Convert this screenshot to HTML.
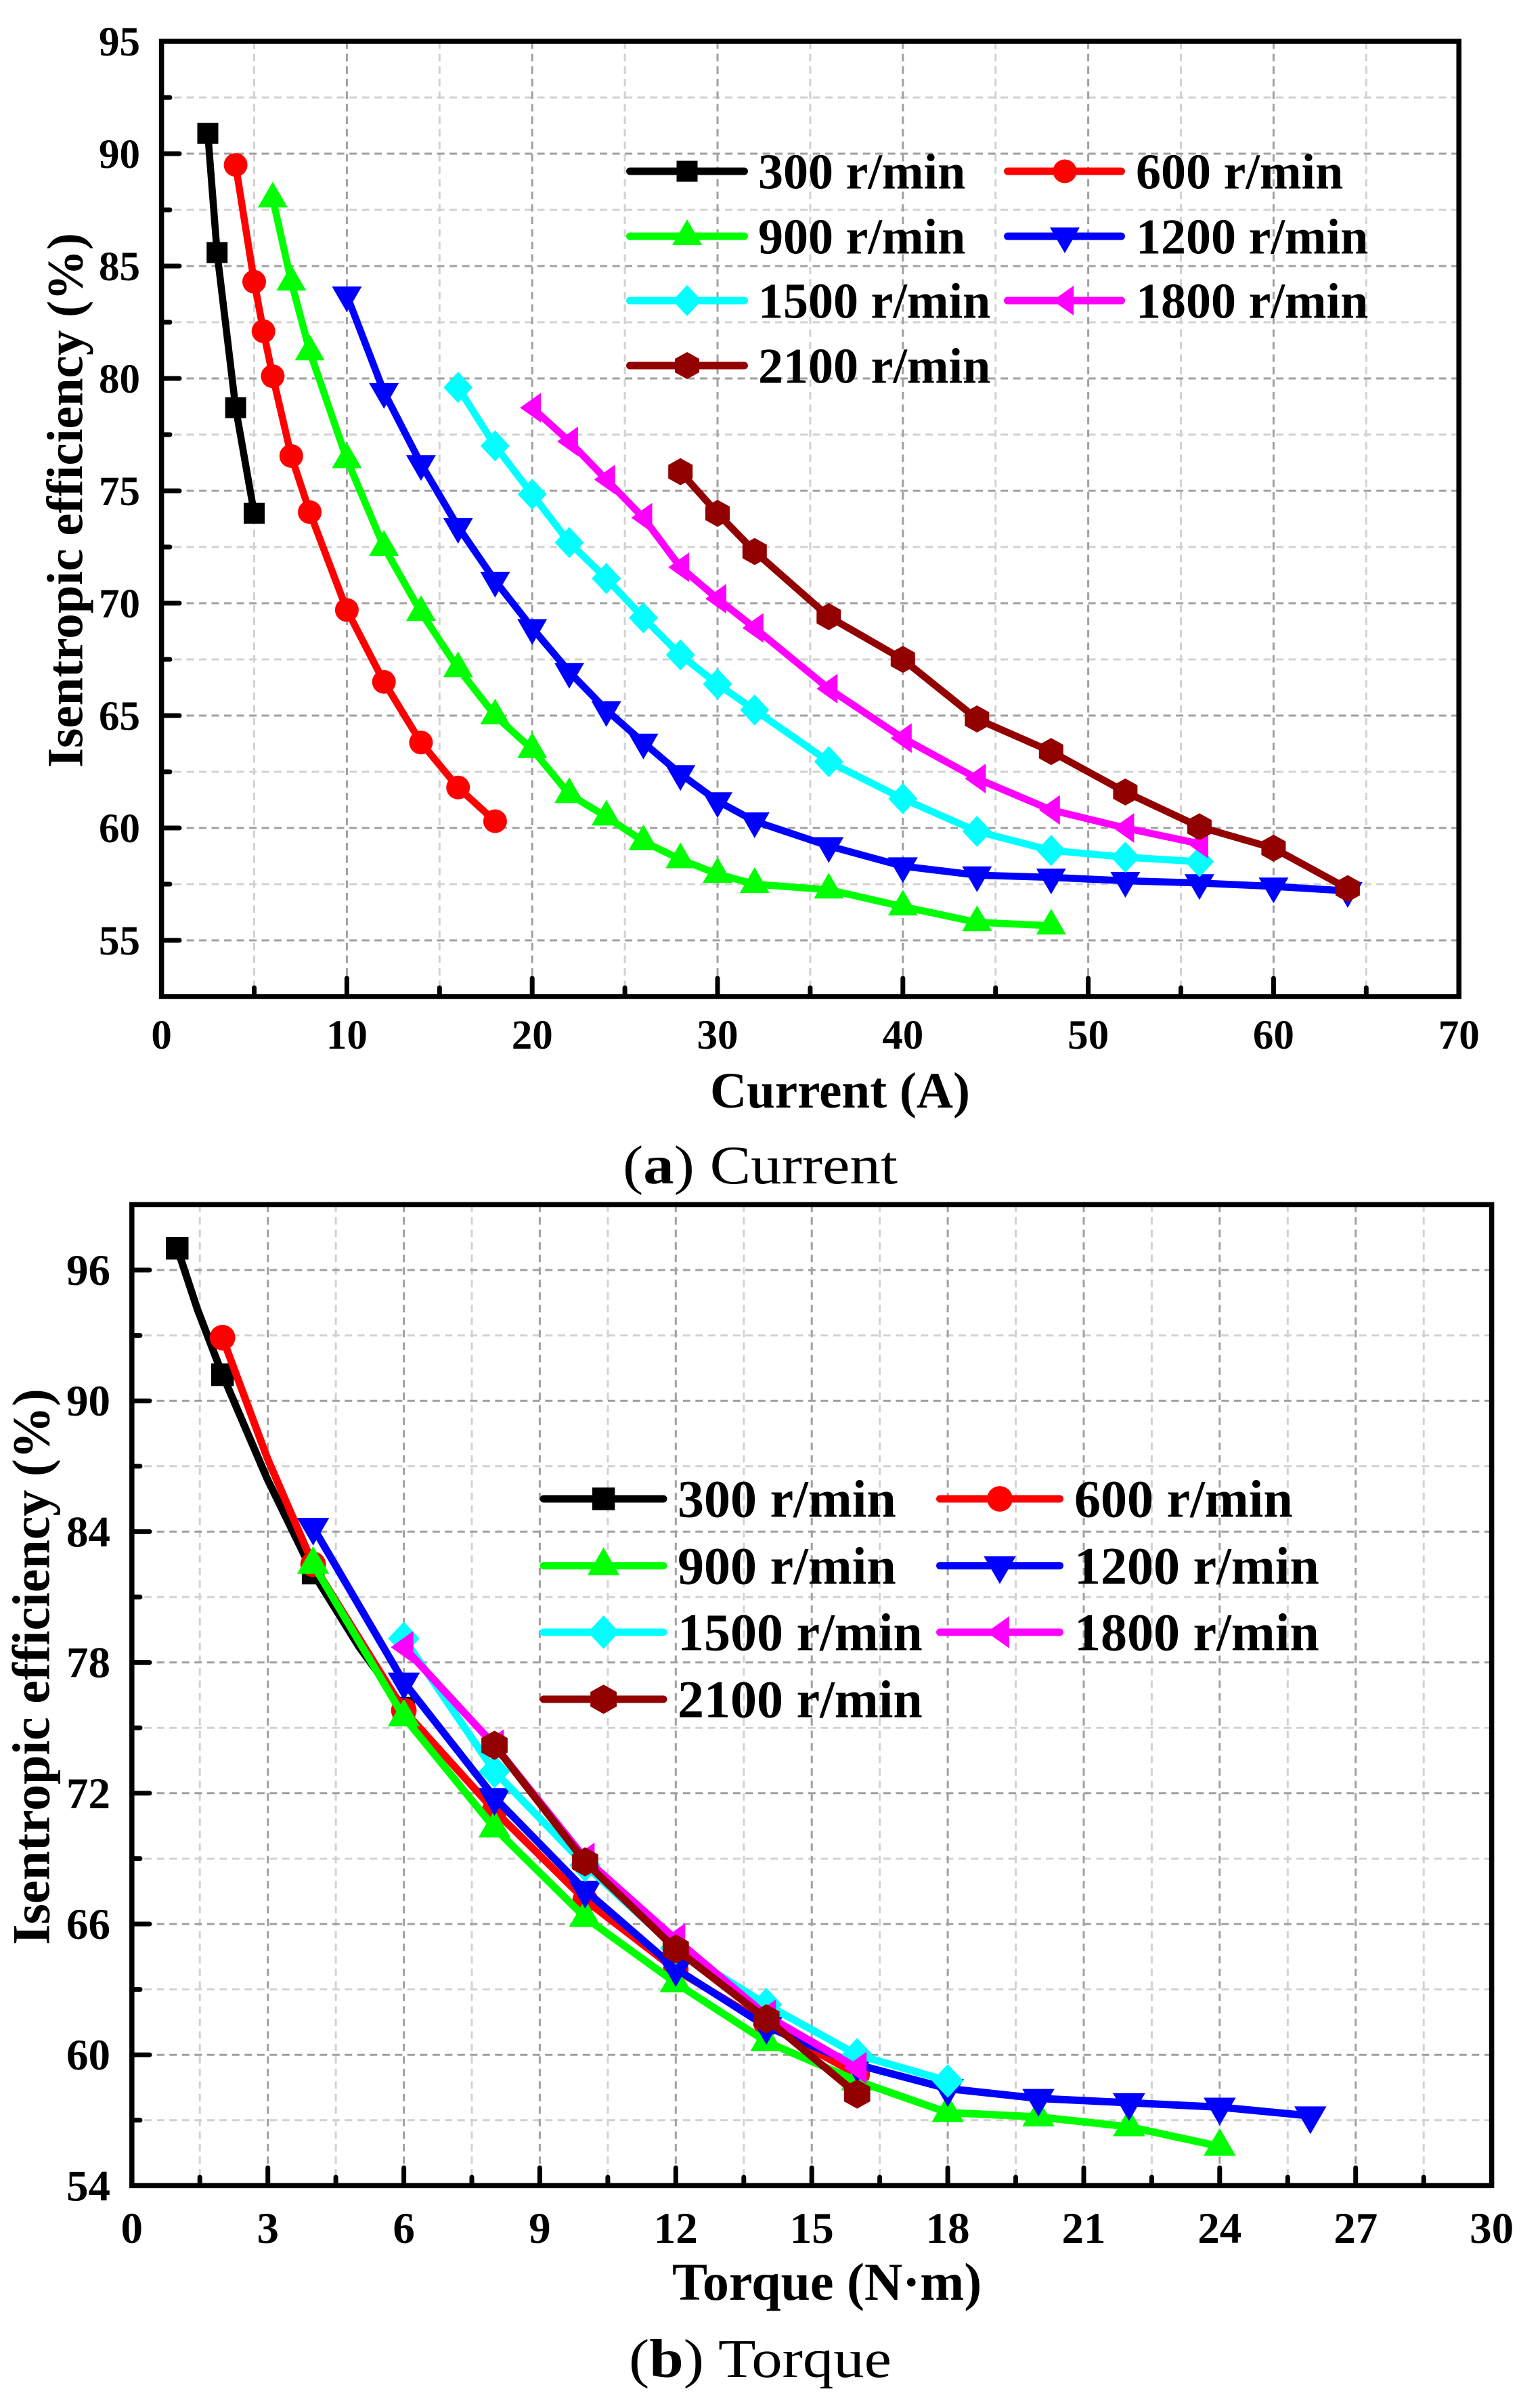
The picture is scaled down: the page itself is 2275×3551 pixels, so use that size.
<!DOCTYPE html>
<html>
<head>
<meta charset="utf-8">
<style>
  html,body{margin:0;padding:0;background:#fff;}
  svg{display:block;}
  text{font-family:"Liberation Serif","Times New Roman",serif;fill:#000;}
</style>
</head>
<body>
<svg xmlns="http://www.w3.org/2000/svg" xmlns:xlink="http://www.w3.org/1999/xlink" width="2275" height="3551" viewBox="0 0 2275 3551">
<rect x="0" y="0" width="2275" height="3551" fill="#fff"/>
<defs>
  <rect id="sq" x="-15.5" y="-15.5" width="31" height="31"/>
  <circle id="ci" cx="0" cy="0" r="17.5"/>
  <polygon id="tu" points="0,-25 22,13 -22,13"/>
  <polygon id="td" points="0,25 22,-13 -22,-13"/>
  <polygon id="di" points="0,-23 21.5,0 0,23 -21.5,0"/>
  <polygon id="tl" points="-18,0 13,-22 13,22"/>
  <polygon id="hx" points="0,-20 18,-10 18,10 0,20 -18,10 -18,-10"/>
  <rect id="bsq" x="-16.7" y="-16.7" width="33.4" height="33.4"/>
  <circle id="bci" cx="0" cy="0" r="18.9"/>
  <polygon id="btu" points="0,-27 23.8,14 -23.8,14"/>
  <polygon id="btd" points="0,27 23.8,-14 -23.8,-14"/>
  <polygon id="bdi" points="0,-24.8 23.2,0 0,24.8 -23.2,0"/>
  <polygon id="btl" points="-19.4,0 14,-23.8 14,23.8"/>
  <polygon id="bhx" points="0,-21.6 19.4,-10.8 19.4,10.8 0,21.6 -19.4,10.8 -19.4,-10.8"/>
</defs>

<!-- ===================== CHART (a) ===================== -->
<g stroke="#d2d2d2" stroke-width="3" stroke-dasharray="11 7.5" fill="none">
  <line x1="375.5" y1="61" x2="375.5" y2="1472"/>
  <line x1="649.3" y1="61" x2="649.3" y2="1472"/>
  <line x1="923.1" y1="61" x2="923.1" y2="1472"/>
  <line x1="1196.9" y1="61" x2="1196.9" y2="1472"/>
  <line x1="1470.7" y1="61" x2="1470.7" y2="1472"/>
  <line x1="1744.5" y1="61" x2="1744.5" y2="1472"/>
  <line x1="2018.3" y1="61" x2="2018.3" y2="1472"/>
  <line x1="238.6" y1="144" x2="2155.2" y2="144"/>
  <line x1="238.6" y1="310" x2="2155.2" y2="310"/>
  <line x1="238.6" y1="476" x2="2155.2" y2="476"/>
  <line x1="238.6" y1="642" x2="2155.2" y2="642"/>
  <line x1="238.6" y1="808" x2="2155.2" y2="808"/>
  <line x1="238.6" y1="974" x2="2155.2" y2="974"/>
  <line x1="238.6" y1="1140" x2="2155.2" y2="1140"/>
  <line x1="238.6" y1="1306" x2="2155.2" y2="1306"/>
</g>
<g stroke="#a0a0a0" stroke-width="3" stroke-dasharray="11 7.5" fill="none">
  <line x1="512.4" y1="61" x2="512.4" y2="1472"/>
  <line x1="786.2" y1="61" x2="786.2" y2="1472"/>
  <line x1="1060" y1="61" x2="1060" y2="1472"/>
  <line x1="1333.8" y1="61" x2="1333.8" y2="1472"/>
  <line x1="1607.6" y1="61" x2="1607.6" y2="1472"/>
  <line x1="1881.4" y1="61" x2="1881.4" y2="1472"/>
  <line x1="238.6" y1="227" x2="2155.2" y2="227"/>
  <line x1="238.6" y1="393" x2="2155.2" y2="393"/>
  <line x1="238.6" y1="559" x2="2155.2" y2="559"/>
  <line x1="238.6" y1="725" x2="2155.2" y2="725"/>
  <line x1="238.6" y1="891" x2="2155.2" y2="891"/>
  <line x1="238.6" y1="1057" x2="2155.2" y2="1057"/>
  <line x1="238.6" y1="1223" x2="2155.2" y2="1223"/>
  <line x1="238.6" y1="1389" x2="2155.2" y2="1389"/>
</g>

<!-- series (a) -->
<polyline fill="none" stroke="#000000" stroke-width="10.5" stroke-linejoin="round" points="307.0,197.1 320.7,373.1 348.1,602.2 375.5,758.2"/>
<g fill="#000000">
  <use xlink:href="#sq" x="307.0" y="197.1"/><use xlink:href="#sq" x="320.7" y="373.1"/><use xlink:href="#sq" x="348.1" y="602.2"/><use xlink:href="#sq" x="375.5" y="758.2"/>
</g>

<polyline fill="none" stroke="#ff0000" stroke-width="10.5" stroke-linejoin="round" points="348.1,243.6 375.5,416.2 389.2,489.3 402.9,555.7 430.3,673.5 457.6,756.5 512.4,901.0 567.2,1007.2 621.9,1096.8 676.7,1163.2 731.4,1213.0"/>
<g fill="#ff0000">
  <use xlink:href="#ci" x="348.1" y="243.6"/><use xlink:href="#ci" x="375.5" y="416.2"/><use xlink:href="#ci" x="389.2" y="489.3"/><use xlink:href="#ci" x="402.9" y="555.7"/><use xlink:href="#ci" x="430.3" y="673.5"/><use xlink:href="#ci" x="457.6" y="756.5"/><use xlink:href="#ci" x="512.4" y="901.0"/><use xlink:href="#ci" x="567.2" y="1007.2"/><use xlink:href="#ci" x="621.9" y="1096.8"/><use xlink:href="#ci" x="676.7" y="1163.2"/><use xlink:href="#ci" x="731.4" y="1213.0"/>
</g>

<polyline fill="none" stroke="#00ff00" stroke-width="10.5" stroke-linejoin="round" points="402.9,293.4 430.3,416.2 457.6,519.2 512.4,678.5 567.2,808.0 621.9,904.3 676.7,987.3 731.4,1057.0 786.2,1106.8 841.0,1173.2 895.7,1206.4 950.5,1242.9 1005.2,1269.5 1060.0,1291.1 1114.8,1306.0 1224.3,1314.3 1333.8,1339.2 1443.3,1362.4 1552.8,1367.4"/>
<g fill="#00ff00">
  <use xlink:href="#tu" x="402.9" y="293.4"/><use xlink:href="#tu" x="430.3" y="416.2"/><use xlink:href="#tu" x="457.6" y="519.2"/><use xlink:href="#tu" x="512.4" y="678.5"/><use xlink:href="#tu" x="567.2" y="808.0"/><use xlink:href="#tu" x="621.9" y="904.3"/><use xlink:href="#tu" x="676.7" y="987.3"/><use xlink:href="#tu" x="731.4" y="1057.0"/><use xlink:href="#tu" x="786.2" y="1106.8"/><use xlink:href="#tu" x="841.0" y="1173.2"/><use xlink:href="#tu" x="895.7" y="1206.4"/><use xlink:href="#tu" x="950.5" y="1242.9"/><use xlink:href="#tu" x="1005.2" y="1269.5"/><use xlink:href="#tu" x="1060.0" y="1291.1"/><use xlink:href="#tu" x="1114.8" y="1306.0"/><use xlink:href="#tu" x="1224.3" y="1314.3"/><use xlink:href="#tu" x="1333.8" y="1339.2"/><use xlink:href="#tu" x="1443.3" y="1362.4"/><use xlink:href="#tu" x="1552.8" y="1367.4"/>
</g>

<polyline fill="none" stroke="#0000ff" stroke-width="10.5" stroke-linejoin="round" points="512.4,436.2 567.2,578.9 621.9,685.2 676.7,778.1 731.4,857.8 786.2,927.5 841.0,992.3 895.7,1048.7 950.5,1096.8 1005.2,1143.3 1060.0,1183.2 1114.8,1213.0 1224.3,1249.6 1333.8,1279.4 1443.3,1292.7 1552.8,1296.0 1662.4,1301.0 1771.9,1304.3 1881.4,1309.3 1990.9,1316.0"/>
<g fill="#0000ff">
  <use xlink:href="#td" x="512.4" y="436.2"/><use xlink:href="#td" x="567.2" y="578.9"/><use xlink:href="#td" x="621.9" y="685.2"/><use xlink:href="#td" x="676.7" y="778.1"/><use xlink:href="#td" x="731.4" y="857.8"/><use xlink:href="#td" x="786.2" y="927.5"/><use xlink:href="#td" x="841.0" y="992.3"/><use xlink:href="#td" x="895.7" y="1048.7"/><use xlink:href="#td" x="950.5" y="1096.8"/><use xlink:href="#td" x="1005.2" y="1143.3"/><use xlink:href="#td" x="1060.0" y="1183.2"/><use xlink:href="#td" x="1114.8" y="1213.0"/><use xlink:href="#td" x="1224.3" y="1249.6"/><use xlink:href="#td" x="1333.8" y="1279.4"/><use xlink:href="#td" x="1443.3" y="1292.7"/><use xlink:href="#td" x="1552.8" y="1296.0"/><use xlink:href="#td" x="1662.4" y="1301.0"/><use xlink:href="#td" x="1771.9" y="1304.3"/><use xlink:href="#td" x="1881.4" y="1309.3"/><use xlink:href="#td" x="1990.9" y="1316.0"/>
</g>

<polyline fill="none" stroke="#00ffff" stroke-width="10.5" stroke-linejoin="round" points="676.7,572.3 731.4,658.6 786.2,730.0 841.0,801.4 895.7,854.5 950.5,912.6 1005.2,967.4 1060.0,1010.5 1114.8,1048.7 1224.3,1125.1 1333.8,1179.8 1443.3,1228.0 1552.8,1256.2 1662.4,1266.2 1771.9,1272.8"/>
<g fill="#00ffff">
  <use xlink:href="#di" x="676.7" y="572.3"/><use xlink:href="#di" x="731.4" y="658.6"/><use xlink:href="#di" x="786.2" y="730.0"/><use xlink:href="#di" x="841.0" y="801.4"/><use xlink:href="#di" x="895.7" y="854.5"/><use xlink:href="#di" x="950.5" y="912.6"/><use xlink:href="#di" x="1005.2" y="967.4"/><use xlink:href="#di" x="1060.0" y="1010.5"/><use xlink:href="#di" x="1114.8" y="1048.7"/><use xlink:href="#di" x="1224.3" y="1125.1"/><use xlink:href="#di" x="1333.8" y="1179.8"/><use xlink:href="#di" x="1443.3" y="1228.0"/><use xlink:href="#di" x="1552.8" y="1256.2"/><use xlink:href="#di" x="1662.4" y="1266.2"/><use xlink:href="#di" x="1771.9" y="1272.8"/>
</g>

<polyline fill="none" stroke="#ff00ff" stroke-width="10.5" stroke-linejoin="round" points="786.2,602.2 841.0,652.0 895.7,708.4 950.5,764.8 1005.2,837.9 1060.0,884.4 1114.8,927.5 1224.3,1017.2 1333.8,1090.2 1443.3,1150.0 1552.8,1196.4 1662.4,1223.0 1771.9,1246.2"/>
<g fill="#ff00ff">
  <use xlink:href="#tl" x="786.2" y="602.2"/><use xlink:href="#tl" x="841.0" y="652.0"/><use xlink:href="#tl" x="895.7" y="708.4"/><use xlink:href="#tl" x="950.5" y="764.8"/><use xlink:href="#tl" x="1005.2" y="837.9"/><use xlink:href="#tl" x="1060.0" y="884.4"/><use xlink:href="#tl" x="1114.8" y="927.5"/><use xlink:href="#tl" x="1224.3" y="1017.2"/><use xlink:href="#tl" x="1333.8" y="1090.2"/><use xlink:href="#tl" x="1443.3" y="1150.0"/><use xlink:href="#tl" x="1552.8" y="1196.4"/><use xlink:href="#tl" x="1662.4" y="1223.0"/><use xlink:href="#tl" x="1771.9" y="1246.2"/>
</g>

<polyline fill="none" stroke="#920000" stroke-width="10.5" stroke-linejoin="round" points="1005.2,696.8 1060.0,758.2 1114.8,814.6 1224.3,910.9 1333.8,974.0 1443.3,1062.0 1552.8,1110.1 1662.4,1169.9 1771.9,1221.3 1881.4,1252.9 1990.9,1312.6"/>
<g fill="#920000">
  <use xlink:href="#hx" x="1005.2" y="696.8"/><use xlink:href="#hx" x="1060.0" y="758.2"/><use xlink:href="#hx" x="1114.8" y="814.6"/><use xlink:href="#hx" x="1224.3" y="910.9"/><use xlink:href="#hx" x="1333.8" y="974.0"/><use xlink:href="#hx" x="1443.3" y="1062.0"/><use xlink:href="#hx" x="1552.8" y="1110.1"/><use xlink:href="#hx" x="1662.4" y="1169.9"/><use xlink:href="#hx" x="1771.9" y="1221.3"/><use xlink:href="#hx" x="1881.4" y="1252.9"/><use xlink:href="#hx" x="1990.9" y="1312.6"/>
</g>

<!-- legend (a) -->
<g stroke-width="11" stroke-linecap="round" fill="none">
  <line x1="930.5" y1="253" x2="1099.5" y2="253" stroke="#000000"/>
  <line x1="1488.5" y1="253" x2="1656.5" y2="253" stroke="#ff0000"/>
  <line x1="930.5" y1="349" x2="1099.5" y2="349" stroke="#00ff00"/>
  <line x1="1488.5" y1="349" x2="1656.5" y2="349" stroke="#0000ff"/>
  <line x1="930.5" y1="444" x2="1099.5" y2="444" stroke="#00ffff"/>
  <line x1="1488.5" y1="444" x2="1656.5" y2="444" stroke="#ff00ff"/>
  <line x1="930.5" y1="540" x2="1099.5" y2="540" stroke="#920000"/>
</g>
<use xlink:href="#sq" x="1015" y="253" fill="#000000"/>
<use xlink:href="#ci" x="1573" y="253" fill="#ff0000"/>
<use xlink:href="#tu" x="1015" y="349" fill="#00ff00"/>
<use xlink:href="#td" x="1573" y="349" fill="#0000ff"/>
<use xlink:href="#di" x="1015" y="444" fill="#00ffff"/>
<use xlink:href="#tl" x="1573" y="444" fill="#ff00ff"/>
<use xlink:href="#hx" x="1015" y="540" fill="#920000"/>
<g font-size="74" font-weight="bold">
  <text x="1120" y="278.5">300 r/min</text>
  <text x="1678" y="278.5">600 r/min</text>
  <text x="1120" y="374.5">900 r/min</text>
  <text x="1678" y="374.5">1200 r/min</text>
  <text x="1120" y="469.5">1500 r/min</text>
  <text x="1678" y="469.5">1800 r/min</text>
  <text x="1120" y="565.5">2100 r/min</text>
</g>

<rect x="238.6" y="61" width="1916.6" height="1411" fill="none" stroke="#000" stroke-width="7.5"/>
<g stroke="#000" stroke-width="7" stroke-linecap="round">
  <line x1="238.6" y1="227" x2="265" y2="227"/>
  <line x1="238.6" y1="393" x2="265" y2="393"/>
  <line x1="238.6" y1="559" x2="265" y2="559"/>
  <line x1="238.6" y1="725" x2="265" y2="725"/>
  <line x1="238.6" y1="891" x2="265" y2="891"/>
  <line x1="238.6" y1="1057" x2="265" y2="1057"/>
  <line x1="238.6" y1="1223" x2="265" y2="1223"/>
  <line x1="238.6" y1="1389" x2="265" y2="1389"/>
  <line x1="238.6" y1="144" x2="251" y2="144"/>
  <line x1="238.6" y1="310" x2="251" y2="310"/>
  <line x1="238.6" y1="476" x2="251" y2="476"/>
  <line x1="238.6" y1="642" x2="251" y2="642"/>
  <line x1="238.6" y1="808" x2="251" y2="808"/>
  <line x1="238.6" y1="974" x2="251" y2="974"/>
  <line x1="238.6" y1="1140" x2="251" y2="1140"/>
  <line x1="238.6" y1="1306" x2="251" y2="1306"/>
  <line x1="512.4" y1="1472" x2="512.4" y2="1445"/>
  <line x1="786.2" y1="1472" x2="786.2" y2="1445"/>
  <line x1="1060" y1="1472" x2="1060" y2="1445"/>
  <line x1="1333.8" y1="1472" x2="1333.8" y2="1445"/>
  <line x1="1607.6" y1="1472" x2="1607.6" y2="1445"/>
  <line x1="1881.4" y1="1472" x2="1881.4" y2="1445"/>
  <line x1="375.5" y1="1472" x2="375.5" y2="1459"/>
  <line x1="649.3" y1="1472" x2="649.3" y2="1459"/>
  <line x1="923.1" y1="1472" x2="923.1" y2="1459"/>
  <line x1="1196.9" y1="1472" x2="1196.9" y2="1459"/>
  <line x1="1470.7" y1="1472" x2="1470.7" y2="1459"/>
  <line x1="1744.5" y1="1472" x2="1744.5" y2="1459"/>
  <line x1="2018.3" y1="1472" x2="2018.3" y2="1459"/>
</g>
<g font-size="61" font-weight="bold" text-anchor="end">
  <text x="207" y="82">95</text>
  <text x="207" y="248">90</text>
  <text x="207" y="414">85</text>
  <text x="207" y="580">80</text>
  <text x="207" y="746">75</text>
  <text x="207" y="912">70</text>
  <text x="207" y="1078">65</text>
  <text x="207" y="1244">60</text>
  <text x="207" y="1410">55</text>
</g>
<g font-size="61" font-weight="bold" text-anchor="middle">
  <text x="238.6" y="1549">0</text>
  <text x="512.4" y="1549">10</text>
  <text x="786.2" y="1549">20</text>
  <text x="1060" y="1549">30</text>
  <text x="1333.8" y="1549">40</text>
  <text x="1607.6" y="1549">50</text>
  <text x="1881.4" y="1549">60</text>
  <text x="2155.2" y="1549">70</text>
</g>
<text x="1049" y="1636" font-size="75" font-weight="bold">Current (A)</text>
<text transform="translate(121.7,739) rotate(-90)" font-size="75" font-weight="bold" text-anchor="middle">Isentropic efficiency (%)</text>
<text x="920" y="1748" font-size="80" textLength="406" lengthAdjust="spacingAndGlyphs">(<tspan font-weight="bold">a</tspan>) Current</text>

<!-- ===================== CHART (b) ===================== -->
<g stroke="#d2d2d2" stroke-width="3" stroke-dasharray="11 7.5" fill="none">
  <line x1="295.2" y1="1779.4" x2="295.2" y2="3228.4"/>
  <line x1="496.1" y1="1779.4" x2="496.1" y2="3228.4"/>
  <line x1="697.0" y1="1779.4" x2="697.0" y2="3228.4"/>
  <line x1="897.9" y1="1779.4" x2="897.9" y2="3228.4"/>
  <line x1="1098.8" y1="1779.4" x2="1098.8" y2="3228.4"/>
  <line x1="1299.6" y1="1779.4" x2="1299.6" y2="3228.4"/>
  <line x1="1500.5" y1="1779.4" x2="1500.5" y2="3228.4"/>
  <line x1="1701.4" y1="1779.4" x2="1701.4" y2="3228.4"/>
  <line x1="1902.3" y1="1779.4" x2="1902.3" y2="3228.4"/>
  <line x1="2103.2" y1="1779.4" x2="2103.2" y2="3228.4"/>
  <line x1="194.8" y1="1972.6" x2="2203.6" y2="1972.6"/>
  <line x1="194.8" y1="2165.8" x2="2203.6" y2="2165.8"/>
  <line x1="194.8" y1="2359" x2="2203.6" y2="2359"/>
  <line x1="194.8" y1="2552.2" x2="2203.6" y2="2552.2"/>
  <line x1="194.8" y1="2745.4" x2="2203.6" y2="2745.4"/>
  <line x1="194.8" y1="2938.6" x2="2203.6" y2="2938.6"/>
  <line x1="194.8" y1="3131.8" x2="2203.6" y2="3131.8"/>
</g>
<g stroke="#a0a0a0" stroke-width="3" stroke-dasharray="11 7.5" fill="none">
  <line x1="395.7" y1="1779.4" x2="395.7" y2="3228.4"/>
  <line x1="596.6" y1="1779.4" x2="596.6" y2="3228.4"/>
  <line x1="797.4" y1="1779.4" x2="797.4" y2="3228.4"/>
  <line x1="998.3" y1="1779.4" x2="998.3" y2="3228.4"/>
  <line x1="1199.2" y1="1779.4" x2="1199.2" y2="3228.4"/>
  <line x1="1400.1" y1="1779.4" x2="1400.1" y2="3228.4"/>
  <line x1="1601.0" y1="1779.4" x2="1601.0" y2="3228.4"/>
  <line x1="1801.8" y1="1779.4" x2="1801.8" y2="3228.4"/>
  <line x1="2002.7" y1="1779.4" x2="2002.7" y2="3228.4"/>
  <line x1="194.8" y1="1876" x2="2203.6" y2="1876"/>
  <line x1="194.8" y1="2069.2" x2="2203.6" y2="2069.2"/>
  <line x1="194.8" y1="2262.4" x2="2203.6" y2="2262.4"/>
  <line x1="194.8" y1="2455.6" x2="2203.6" y2="2455.6"/>
  <line x1="194.8" y1="2648.8" x2="2203.6" y2="2648.8"/>
  <line x1="194.8" y1="2842" x2="2203.6" y2="2842"/>
  <line x1="194.8" y1="3035.2" x2="2203.6" y2="3035.2"/>
</g>

<!-- series (b) -->
<polyline fill="none" stroke="#000000" stroke-width="11" stroke-linejoin="round" points="261.8,1843.8 292,1935 328.7,2030.6 395,2185 462.6,2323.6 530,2432 596.6,2523.2"/>
<g fill="#000000">
  <use xlink:href="#bsq" x="261.8" y="1843.8"/><use xlink:href="#bsq" x="328.7" y="2030.6"/><use xlink:href="#bsq" x="462.6" y="2323.6"/><use xlink:href="#bsq" x="596.6" y="2523.2"/>
</g>

<polyline fill="none" stroke="#ff0000" stroke-width="11" stroke-linejoin="round" points="328.7,1975.8 395,2154 462.6,2310.7 596.6,2526.4 730.5,2674.6 864.4,2806.6 998.3,2909.6 1132.2,2990.1 1266.2,3064.2"/>
<g fill="#ff0000">
  <use xlink:href="#bci" x="328.7" y="1975.8"/><use xlink:href="#bci" x="462.6" y="2310.7"/><use xlink:href="#bci" x="596.6" y="2526.4"/><use xlink:href="#bci" x="730.5" y="2674.6"/><use xlink:href="#bci" x="864.4" y="2806.6"/><use xlink:href="#bci" x="998.3" y="2909.6"/><use xlink:href="#bci" x="1132.2" y="2990.1"/><use xlink:href="#bci" x="1266.2" y="3064.2"/>
</g>

<polyline fill="none" stroke="#00ff00" stroke-width="11" stroke-linejoin="round" points="462.6,2310.7 596.6,2536.1 730.5,2700.3 864.4,2832.3 998.3,2928.9 1132.2,3015.9 1266.2,3073.8 1400.1,3120.5 1534.0,3127.0 1667.9,3141.5 1801.8,3170.4"/>
<g fill="#00ff00">
  <use xlink:href="#btu" x="462.6" y="2310.7"/><use xlink:href="#btu" x="596.6" y="2536.1"/><use xlink:href="#btu" x="730.5" y="2700.3"/><use xlink:href="#btu" x="864.4" y="2832.3"/><use xlink:href="#btu" x="998.3" y="2928.9"/><use xlink:href="#btu" x="1132.2" y="3015.9"/><use xlink:href="#btu" x="1266.2" y="3073.8"/><use xlink:href="#btu" x="1400.1" y="3120.5"/><use xlink:href="#btu" x="1534.0" y="3127.0"/><use xlink:href="#btu" x="1667.9" y="3141.5"/><use xlink:href="#btu" x="1801.8" y="3170.4"/>
</g>

<polyline fill="none" stroke="#0000ff" stroke-width="11" stroke-linejoin="round" points="462.6,2256.0 596.6,2484.6 730.5,2655.2 864.4,2792.1 998.3,2908.0 1132.2,2993.3 1266.2,3049.7 1400.1,3085.1 1534.0,3099.6 1667.9,3106.0 1801.8,3112.5 1935.8,3125.4"/>
<g fill="#0000ff">
  <use xlink:href="#btd" x="462.6" y="2256.0"/><use xlink:href="#btd" x="596.6" y="2484.6"/><use xlink:href="#btd" x="730.5" y="2655.2"/><use xlink:href="#btd" x="864.4" y="2792.1"/><use xlink:href="#btd" x="998.3" y="2908.0"/><use xlink:href="#btd" x="1132.2" y="2993.3"/><use xlink:href="#btd" x="1266.2" y="3049.7"/><use xlink:href="#btd" x="1400.1" y="3085.1"/><use xlink:href="#btd" x="1534.0" y="3099.6"/><use xlink:href="#btd" x="1667.9" y="3106.0"/><use xlink:href="#btd" x="1801.8" y="3112.5"/><use xlink:href="#btd" x="1935.8" y="3125.4"/>
</g>

<polyline fill="none" stroke="#00ffff" stroke-width="11" stroke-linejoin="round" points="596.6,2420.2 730.5,2616.6 864.4,2755.1 998.3,2877.4 1132.2,2961.1 1266.2,3035.2 1400.1,3073.8"/>
<g fill="#00ffff">
  <use xlink:href="#bdi" x="596.6" y="2420.2"/><use xlink:href="#bdi" x="730.5" y="2616.6"/><use xlink:href="#bdi" x="864.4" y="2755.1"/><use xlink:href="#bdi" x="998.3" y="2877.4"/><use xlink:href="#bdi" x="1132.2" y="2961.1"/><use xlink:href="#bdi" x="1266.2" y="3035.2"/><use xlink:href="#bdi" x="1400.1" y="3073.8"/>
</g>

<polyline fill="none" stroke="#ff00ff" stroke-width="11" stroke-linejoin="round" points="596.6,2433.1 730.5,2578.0 864.4,2745.4 998.3,2864.5 1132.2,2977.2 1266.2,3054.5"/>
<g fill="#ff00ff">
  <use xlink:href="#btl" x="596.6" y="2433.1"/><use xlink:href="#btl" x="730.5" y="2578.0"/><use xlink:href="#btl" x="864.4" y="2745.4"/><use xlink:href="#btl" x="998.3" y="2864.5"/><use xlink:href="#btl" x="1132.2" y="2977.2"/><use xlink:href="#btl" x="1266.2" y="3054.5"/>
</g>

<polyline fill="none" stroke="#920000" stroke-width="11" stroke-linejoin="round" points="730.5,2578.0 864.4,2750.2 998.3,2879.0 1132.2,2982.1 1266.2,3093.2"/>
<g fill="#920000">
  <use xlink:href="#bhx" x="730.5" y="2578.0"/><use xlink:href="#bhx" x="864.4" y="2750.2"/><use xlink:href="#bhx" x="998.3" y="2879.0"/><use xlink:href="#bhx" x="1132.2" y="2982.1"/><use xlink:href="#bhx" x="1266.2" y="3093.2"/>
</g>

<!-- legend (b) -->
<g stroke-width="11" stroke-linecap="round" fill="none">
  <line x1="803" y1="2214" x2="980" y2="2214" stroke="#000000"/>
  <line x1="1388.5" y1="2214" x2="1565.5" y2="2214" stroke="#ff0000"/>
  <line x1="803" y1="2312.7" x2="980" y2="2312.7" stroke="#00ff00"/>
  <line x1="1388.5" y1="2312.7" x2="1565.5" y2="2312.7" stroke="#0000ff"/>
  <line x1="803" y1="2411" x2="980" y2="2411" stroke="#00ffff"/>
  <line x1="1388.5" y1="2411" x2="1565.5" y2="2411" stroke="#ff00ff"/>
  <line x1="803" y1="2510" x2="980" y2="2510" stroke="#920000"/>
</g>
<use xlink:href="#bsq" x="891.6" y="2214" fill="#000000"/>
<use xlink:href="#bci" x="1477" y="2214" fill="#ff0000"/>
<use xlink:href="#btu" x="891.6" y="2312.7" fill="#00ff00"/>
<use xlink:href="#btd" x="1477" y="2312.7" fill="#0000ff"/>
<use xlink:href="#bdi" x="891.6" y="2411" fill="#00ffff"/>
<use xlink:href="#btl" x="1477" y="2411" fill="#ff00ff"/>
<use xlink:href="#bhx" x="891.6" y="2510" fill="#920000"/>
<g font-size="78" font-weight="bold">
  <text x="1001" y="2240.7">300 r/min</text>
  <text x="1587" y="2240.7">600 r/min</text>
  <text x="1001" y="2339.4">900 r/min</text>
  <text x="1587" y="2339.4">1200 r/min</text>
  <text x="1001" y="2437.7">1500 r/min</text>
  <text x="1587" y="2437.7">1800 r/min</text>
  <text x="1001" y="2536.7">2100 r/min</text>
</g>

<rect x="194.8" y="1779.4" width="2008.8" height="1449" fill="none" stroke="#000" stroke-width="7.5"/>
<g stroke="#000" stroke-width="7" stroke-linecap="round">
  <line x1="194.8" y1="1876" x2="221" y2="1876"/>
  <line x1="194.8" y1="2069.2" x2="221" y2="2069.2"/>
  <line x1="194.8" y1="2262.4" x2="221" y2="2262.4"/>
  <line x1="194.8" y1="2455.6" x2="221" y2="2455.6"/>
  <line x1="194.8" y1="2648.8" x2="221" y2="2648.8"/>
  <line x1="194.8" y1="2842" x2="221" y2="2842"/>
  <line x1="194.8" y1="3035.2" x2="221" y2="3035.2"/>
  <line x1="194.8" y1="1972.6" x2="207" y2="1972.6"/>
  <line x1="194.8" y1="2165.8" x2="207" y2="2165.8"/>
  <line x1="194.8" y1="2359" x2="207" y2="2359"/>
  <line x1="194.8" y1="2552.2" x2="207" y2="2552.2"/>
  <line x1="194.8" y1="2745.4" x2="207" y2="2745.4"/>
  <line x1="194.8" y1="2938.6" x2="207" y2="2938.6"/>
  <line x1="194.8" y1="3131.8" x2="207" y2="3131.8"/>
  <line x1="395.7" y1="3228.4" x2="395.7" y2="3202"/>
  <line x1="596.6" y1="3228.4" x2="596.6" y2="3202"/>
  <line x1="797.4" y1="3228.4" x2="797.4" y2="3202"/>
  <line x1="998.3" y1="3228.4" x2="998.3" y2="3202"/>
  <line x1="1199.2" y1="3228.4" x2="1199.2" y2="3202"/>
  <line x1="1400.1" y1="3228.4" x2="1400.1" y2="3202"/>
  <line x1="1601.0" y1="3228.4" x2="1601.0" y2="3202"/>
  <line x1="1801.8" y1="3228.4" x2="1801.8" y2="3202"/>
  <line x1="2002.7" y1="3228.4" x2="2002.7" y2="3202"/>
  <line x1="295.2" y1="3228.4" x2="295.2" y2="3216"/>
  <line x1="496.1" y1="3228.4" x2="496.1" y2="3216"/>
  <line x1="697.0" y1="3228.4" x2="697.0" y2="3216"/>
  <line x1="897.9" y1="3228.4" x2="897.9" y2="3216"/>
  <line x1="1098.8" y1="3228.4" x2="1098.8" y2="3216"/>
  <line x1="1299.6" y1="3228.4" x2="1299.6" y2="3216"/>
  <line x1="1500.5" y1="3228.4" x2="1500.5" y2="3216"/>
  <line x1="1701.4" y1="3228.4" x2="1701.4" y2="3216"/>
  <line x1="1902.3" y1="3228.4" x2="1902.3" y2="3216"/>
  <line x1="2103.2" y1="3228.4" x2="2103.2" y2="3216"/>
</g>
<g font-size="65" font-weight="bold" text-anchor="end">
  <text x="163" y="1898">96</text>
  <text x="163" y="2091.2">90</text>
  <text x="163" y="2284.4">84</text>
  <text x="163" y="2477.6">78</text>
  <text x="163" y="2670.8">72</text>
  <text x="163" y="2864">66</text>
  <text x="163" y="3057.2">60</text>
  <text x="163" y="3250.4">54</text>
</g>
<g font-size="65" font-weight="bold" text-anchor="middle">
  <text x="194.8" y="3313">0</text>
  <text x="395.7" y="3313">3</text>
  <text x="596.6" y="3313">6</text>
  <text x="797.4" y="3313">9</text>
  <text x="998.3" y="3313">12</text>
  <text x="1199.2" y="3313">15</text>
  <text x="1400.1" y="3313">18</text>
  <text x="1601.0" y="3313">21</text>
  <text x="1801.8" y="3313">24</text>
  <text x="2002.7" y="3313">27</text>
  <text x="2203.6" y="3313">30</text>
</g>
<text x="993" y="3397" font-size="78" font-weight="bold">Torque (N·m)</text>
<text transform="translate(72.7,2462) rotate(-90)" font-size="78" font-weight="bold" text-anchor="middle">Isentropic efficiency (%)</text>
<text x="929" y="3511" font-size="80" textLength="388" lengthAdjust="spacingAndGlyphs">(<tspan font-weight="bold">b</tspan>) Torque</text>
</svg>
</body>
</html>
